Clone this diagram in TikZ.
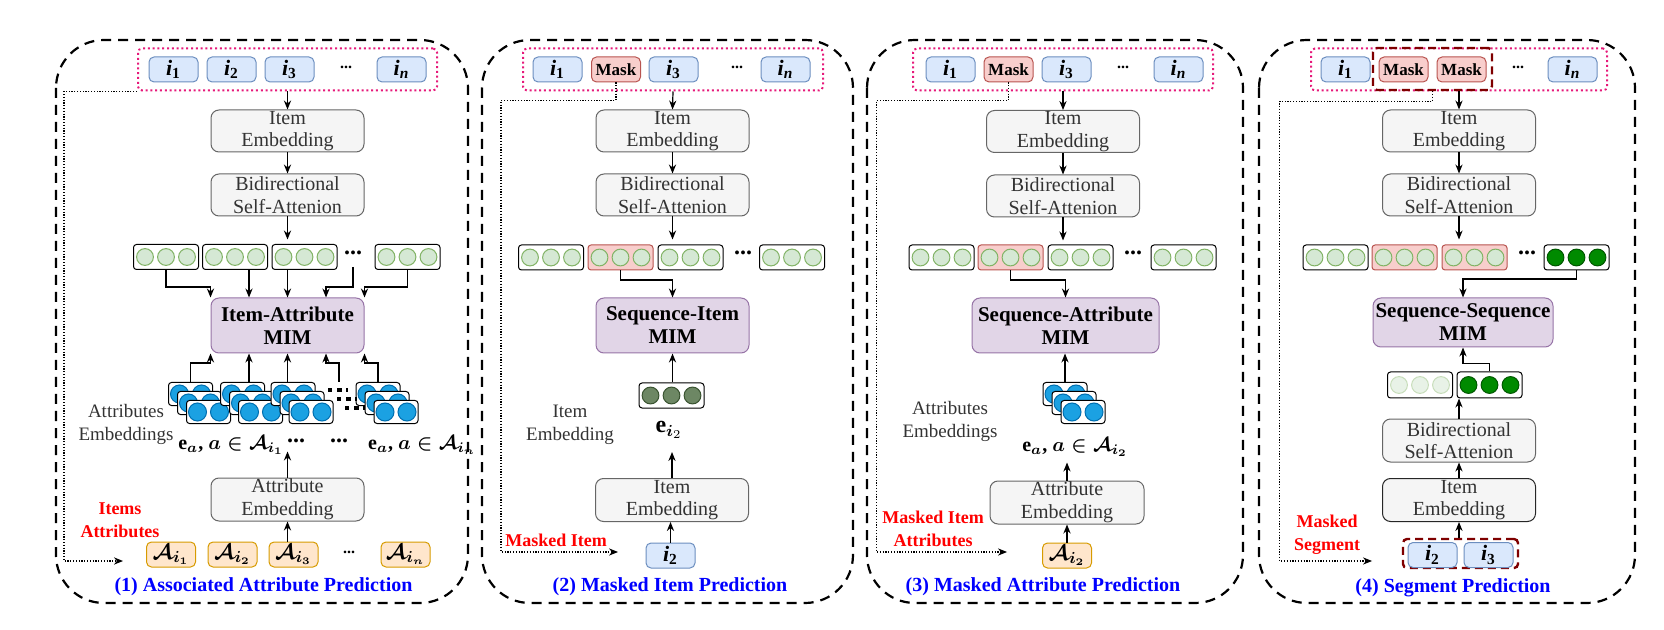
\documentclass[tikz,border=0pt]{standalone}
\usepackage{amsmath}
\usepackage{fontspec}
\setmainfont{Liberation Serif}
\usepackage{tikz}
\usetikzlibrary{arrows.meta,calc}

\definecolor{itemfill}{HTML}{DAE8FC}
\definecolor{itemline}{HTML}{6C8EBF}
\definecolor{maskfill}{HTML}{F8CECC}
\definecolor{maskline}{HTML}{B85450}
\definecolor{blockfill}{HTML}{F5F5F5}
\definecolor{blockline}{HTML}{666666}
\definecolor{blocktext}{HTML}{333333}
\definecolor{mimfill}{HTML}{E1D5E7}
\definecolor{mimline}{HTML}{9673A6}
\definecolor{attrfill}{HTML}{FFE6CC}
\definecolor{attrline}{HTML}{D79B00}
\definecolor{gfill}{HTML}{D5E8D4}
\definecolor{gline}{HTML}{82B366}
\definecolor{bfill}{HTML}{1BA1E2}
\definecolor{bline}{HTML}{006EAF}
\definecolor{dgfill}{HTML}{008A00}
\definecolor{dgline}{HTML}{005700}
\definecolor{olfill}{HTML}{6D8764}
\definecolor{olline}{HTML}{3A5431}
\definecolor{seqline}{HTML}{E6197A}
\definecolor{segline}{HTML}{7F0000}
\definecolor{titleblue}{HTML}{0000FF}
\definecolor{labelred}{HTML}{FF0000}

\newcommand{\itm}[1]{\textbf{\textit{i}\textsubscript{#1}}}
\newcommand{\eattr}[1]{$\mathbf{e}_{\boldsymbol{a}}\textbf{,}\ \boldsymbol{a\in\mathcal{A}_{i_{#1}}}$}
\newcommand{\attrof}[1]{$\boldsymbol{\mathcal{A}_{i_{#1}}}$}
% name, x, y, box style, dot style
\newcommand{\vecrow}[5]{%
  \node[vec,#4] (#1) at (#2,#3) {};
  \foreach \dx in {-21,0,21} \draw[#5] ({#2+\dx},#3) circle [radius=4.2pt];}
% name, x, y of the back box
\newcommand{\attrstack}[3]{%
  \foreach \s in {0,1,2} {
    \node[abox] (#1-\s) at ({#2+9*\s},{#3+9*\s}) {};
    \foreach \dx in {-11,11} \draw[bdot] ({#2+9*\s+\dx},{#3+9*\s}) circle [radius=4.5pt];}}

\begin{document}
\begin{tikzpicture}[x=0.5pt,y=-0.5pt,>={Stealth[length=4.5pt,width=3.6pt]},
                    line width=0.6pt,every node/.style={font=\fontsize{10}{11.3}\selectfont}]
  \tikzstyle{panel}=[draw=black,line width=1.1pt,dash pattern=on 5pt off 3.5pt,rounded corners=24pt]
  \tikzstyle{seqbox}=[draw=seqline,line width=1pt,dash pattern=on 1pt off 1.4pt,rounded corners=2pt,
                      minimum height=21pt,inner sep=0pt]
  \tikzstyle{segbox}=[draw=segline,line width=1.2pt,dash pattern=on 4pt off 2.5pt,rounded corners=2pt,inner sep=0pt]
  \tikzstyle{item}=[draw=itemline,fill=itemfill,line width=0.5pt,rounded corners=2.5pt,minimum width=24.5pt,
                    minimum height=12.5pt,inner sep=0pt,font=\fontsize{11}{12}\selectfont]
  \tikzstyle{mask}=[item,draw=maskline,fill=maskfill,font=\bfseries\fontsize{8.5}{10}\selectfont]
  \tikzstyle{attr}=[item,draw=attrline,fill=attrfill]
  \tikzstyle{block}=[draw=blockline,fill=blockfill,text=blocktext,line width=0.5pt,rounded corners=4pt,
                     minimum width=76.5pt,minimum height=21pt,inner sep=0pt,align=center]
  \tikzstyle{mim}=[block,draw=mimline,fill=mimfill,text=black,minimum height=27.5pt,
                   font=\bfseries\fontsize{10.5}{11.5}\selectfont]
  \tikzstyle{vec}=[draw=black,fill=white,line width=0.5pt,rounded corners=1.5pt,minimum width=32.5pt,
                   minimum height=12.5pt,inner sep=0pt]
  \tikzstyle{redvec}=[draw=maskline,fill=maskfill]
  \tikzstyle{abox}=[draw=black,fill=white,line width=0.5pt,rounded corners=1.5pt,minimum width=22pt,
                    minimum height=11.5pt,inner sep=0pt]
  \tikzstyle{gdot}=[draw=gline,fill=gfill,line width=0.5pt]
  \tikzstyle{pdot}=[draw=gline!45,fill=gfill!55,line width=0.5pt]
  \tikzstyle{bdot}=[draw=bline,fill=bfill,line width=0.5pt]
  \tikzstyle{dgdot}=[draw=dgline,fill=dgfill,line width=0.5pt]
  \tikzstyle{oldot}=[draw=olline,fill=olfill,line width=0.5pt]
  \tikzstyle{note}=[text=blocktext,align=center,font=\fontsize{9.5}{11.5}\selectfont]
  \tikzstyle{tag}=[text=labelred,align=center,font=\bfseries\fontsize{9}{11.5}\selectfont]
  \tikzstyle{title}=[text=titleblue,font=\bfseries\fontsize{10}{12}\selectfont]
  \tikzstyle{dots}=[font=\bfseries\fontsize{12}{12}\selectfont]
  \tikzstyle{sdots}=[font=\bfseries\fontsize{8}{10}\selectfont]
  \tikzstyle{hint}=[->,line width=0.6pt,dash pattern=on 0.6pt off 0.8pt]
  \tikzstyle{ldots}=[line width=2.2pt,dash pattern=on 2.2pt off 2.4pt]

  \useasboundingbox (0,0) rectangle (1664,630);

  % four task panels
  \draw[panel] (56,40) rectangle (468,603);
  \draw[panel] (482,40) rectangle (853,603);
  \draw[panel] (867,40) rectangle (1243,603);
  \draw[panel] (1259,40) rectangle (1635,603);

  % ---------- (1) associated attribute prediction
  \node[seqbox,minimum width=149.5pt] (seqA) at (287.5,69.5) {};
  \node[item] (iA1) at (173.5,69.5) {\itm{1}};
  \node[item] (iA2) at (231.5,69.5) {\itm{2}};
  \node[item] (iA3) at (289.5,69.5) {\itm{3}};
  \node[sdots] (dA) at (346,67) {...};
  \node[item] (iAn) at (401.5,69.5) {\itm{\textit{n}}};

  \node[block] (embA) at (287.5,131) {Item\\Embedding};
  \node[block] (bidA) at (287.5,195) {Bidirectional\\Self-Attenion};

  \vecrow{vA1}{166}{257}{}{gdot}
  \vecrow{vA2}{235}{257}{}{gdot}
  \vecrow{vA3}{304.5}{257}{}{gdot}
  \node[dots] (vdA) at (353,253) {...};
  \vecrow{vA4}{407.5}{257}{}{gdot}

  \node[mim] (mimA) at (287.5,325.5) {Item-Attribute\\MIM};

  \attrstack{sA1}{190.5}{394}
  \attrstack{sA2}{242.5}{394}
  \attrstack{sA3}{293}{394}
  \attrstack{sA4}{378}{394}
  \draw[ldots] (328,390) -- (348,390);
  \draw[ldots] (337,399) -- (357,399);
  \draw[ldots] (345,408) -- (365,408);
  \coordinate (sdA) at (339,382);

  \node[note] (nA) at (126,424) {Attributes\\Embeddings};
  \node (lA1) at (231,445) {\eattr{1}};
  \node[dots] (ldA1) at (296,441) {...};
  \node[dots] (ldA2) at (339,441) {...};
  \node (lAn) at (422,445) {\eattr{n}};

  \node[block,minimum height=21.5pt] (attA) at (287.5,499.5) {Attribute\\Embedding};
  \node[attr] (aA1) at (171,554.5) {\attrof{1}};
  \node[attr] (aA2) at (232.5,554.5) {\attrof{2}};
  \node[attr] (aA3) at (293.5,554.5) {\attrof{3}};
  \node[sdots] (daA) at (349,552) {...};
  \node[attr] (aAn) at (405.5,554.5) {\attrof{n}};
  \node[tag] (tA) at (120,520) {Items\\Attributes};
  \node[title] (ttA) at (263.5,587) {(1) Associated Attribute Prediction};

  \coordinate (jA) at (0,287);
  \coordinate (kA) at (0,363);
  \coordinate (tA2) at ($(mimA.north west)!0.25!(mimA.north east)$);
  \coordinate (tA4) at ($(mimA.north west)!0.75!(mimA.north east)$);
  \coordinate (bA2) at ($(mimA.south west)!0.25!(mimA.south east)$);
  \coordinate (bA4) at ($(mimA.south west)!0.75!(mimA.south east)$);
  \draw[->] (seqA.south) -- (embA.north);
  \draw[->] (embA.south) -- (bidA.north);
  \draw[->] (bidA.south) -- ++(0,23);
  \draw[->] (vA1.south) -- (vA1.south |- jA) -| (mimA.north west);
  \draw[->] (vA2.south -| tA2) -- (tA2);
  \draw[->] (vA3.south -| mimA.north) -- (mimA.north);
  \draw[->] (353,267) -- (353,287) -| (tA4);
  \draw[->] (vA4.south) -- (vA4.south |- jA) -| (mimA.north east);
  \draw[->] (sA1-0.north) -- (sA1-0.north |- kA) -| (mimA.south west);
  \draw[->] (sA2-0.north -| bA2) -- (bA2);
  \draw[->] (sA3-0.north -| mimA.south) -- (mimA.south);
  \draw[->] (sdA) -- (sdA |- kA) -| (bA4);
  \draw[->] (sA4-0.north) -- (sA4-0.north |- kA) -| (mimA.south east);
  \draw[->] (attA.north) -- ++(0,-26);
  \draw[->] (aA3.north -| attA.south) -- (attA.south);
  \coordinate (hA) at (123,561);
  \draw[hint] (seqA.south west) -- ++(-73,0) |- (hA);

  % ---------- (2) masked item prediction
  \node[seqbox,minimum width=150pt] (seqB) at (673,69.5) {};
  \node[item] (iB1) at (557.5,69.5) {\itm{1}};
  \node[mask] (maskB) at (616,69.5) {Mask};
  \node[item] (iB3) at (673.5,69.5) {\itm{3}};
  \node[sdots] (dB) at (737,67) {...};
  \node[item] (iBn) at (785.5,69.5) {\itm{\textit{n}}};

  \node[block] (embB) at (672.5,131) {Item\\Embedding};
  \node[block] (bidB) at (672.5,195) {Bidirectional\\Self-Attenion};

  \vecrow{vB1}{551}{257.5}{}{gdot}
  \vecrow{vB2}{620.5}{257.5}{redvec}{gdot}
  \vecrow{vB3}{690.5}{257.5}{}{gdot}
  \node[dots] (vdB) at (743,253) {...};
  \vecrow{vB4}{792}{257.5}{}{gdot}

  \node[mim] (mimB) at (672.5,325.5) {Sequence-Item\\MIM};
  \vecrow{eB}{671.5}{395.5}{}{oldot}
  \node[font=\fontsize{12}{12}\selectfont] (eiB) at (669,430) {$\mathbf{e}_{\boldsymbol{i}_2}$};
  \node[note] (nB) at (570,425) {Item\\Embedding};
  \node[block,minimum height=21.5pt] (embB2) at (672,500) {Item\\Embedding};
  \node[item] (iB2) at (670.5,555.5) {\itm{2}};
  \node[tag] (tB) at (556,540) {Masked Item};
  \node[title] (ttB) at (670,587) {(2) Masked Item Prediction};

  \coordinate (jB) at (0,280);
  \draw[->] (seqB.south) -- (embB.north);
  \draw[->] (embB.south) -- (bidB.north);
  \draw[->] (bidB.south) -- ++(0,23);
  \draw[->] (vB2.south) -- (vB2.south |- jB) -| (mimB.north);
  \draw[->] (mimB.south |- eB.north) -- (mimB.south);
  \draw[->] (embB2.north) -- ++(0,-26);
  \draw[->] (iB2.north) -- (iB2.north |- embB2.south);
  \coordinate (hB) at (618,552);
  \draw[hint] (maskB.south) -- ++(0,18) -- ++(-115,0) |- (hB);

  % ---------- (3) masked attribute prediction
  \node[seqbox,minimum width=150pt] (seqC) at (1063,69.5) {};
  \node[item] (iC1) at (950.5,69.5) {\itm{1}};
  \node[mask] (maskC) at (1008.5,69.5) {Mask};
  \node[item] (iC3) at (1066.5,69.5) {\itm{3}};
  \node[sdots] (dC) at (1123,67) {...};
  \node[item] (iCn) at (1178.5,69.5) {\itm{\textit{n}}};

  \node[block] (embC) at (1063,131.5) {Item\\Embedding};
  \node[block] (bidC) at (1063,196) {Bidirectional\\Self-Attenion};

  \vecrow{vC1}{941.5}{257.5}{}{gdot}
  \vecrow{vC2}{1010.5}{257.5}{redvec}{gdot}
  \vecrow{vC3}{1080.5}{257.5}{}{gdot}
  \node[dots] (vdC) at (1133,253) {...};
  \vecrow{vC4}{1183.5}{257.5}{}{gdot}

  \node[mim,minimum width=93.5pt] (mimC) at (1065.5,325.5) {Sequence-Attribute\\MIM};
  \attrstack{sC}{1065}{394}
  \node (lC) at (1075,447) {\eattr{2}};
  \node[note] (nC) at (950,421) {Attributes\\Embeddings};
  \node[block,minimum width=77pt,minimum height=21.5pt] (attC) at (1067,502.5) {Attribute\\Embedding};
  \node[attr] (aC2) at (1067,555.5) {\attrof{2}};
  \node[tag] (tC) at (933,529) {Masked Item\\Attributes};
  \node[title] (ttC) at (1043,587) {(3) Masked Attribute Prediction};

  \draw[->] (seqC.south) -- (embC.north);
  \draw[->] (embC.south) -- (bidC.north);
  \draw[->] (bidC.south) -- ++(0,23);
  \draw[->] (vC2.south) -- (vC2.south |- jB) -| (mimC.north);
  \draw[->] (sC-0.north) -- (sC-0.north |- mimC.south);
  \draw[->] (attC.north) -- ++(0,-18);
  \draw[->,line width=1.3pt] (aC2.north) -- (aC2.north |- attC.south);
  \coordinate (hC) at (1007,552);
  \draw[hint] (maskC.south) -- ++(0,18) -- ++(-132,0) |- (hC);

  % ---------- (4) segment prediction
  \node[seqbox,minimum width=148pt] (seqD) at (1459,69.5) {};
  \node[item] (iD1) at (1345.5,69.5) {\itm{1}};
  \node[mask] (maskD1) at (1403.5,69.5) {Mask};
  \node[mask] (maskD2) at (1461.5,69.5) {Mask};
  \node[sdots] (dD) at (1518,67) {...};
  \node[item] (iDn) at (1572.5,69.5) {\itm{\textit{n}}};
  \node[segbox,minimum width=59.5pt,minimum height=21pt] (segD) at (1432.5,69) {};

  \node[block] (embD) at (1459,131) {Item\\Embedding};
  \node[block] (bidD) at (1459,195) {Bidirectional\\Self-Attenion};

  \vecrow{vD1}{1335.5}{257.5}{}{gdot}
  \vecrow{vD2}{1404.5}{257.5}{redvec}{gdot}
  \vecrow{vD3}{1474.5}{257.5}{redvec}{gdot}
  \node[dots] (vdD) at (1527,253) {...};
  \vecrow{vD4}{1576.5}{257.5}{}{dgdot}

  \node[mim,minimum width=90pt,minimum height=24.5pt] (mimD) at (1463,322.5) {Sequence-Sequence\\MIM};
  \vecrow{wD1}{1420}{385}{minimum height=13pt}{pdot}
  \vecrow{wD2}{1489.5}{385}{minimum height=13pt}{dgdot}
  \node[block,minimum height=21.5pt] (bidD2) at (1459,440.5) {Bidirectional\\Self-Attenion};
  \node[block,draw=black!85,minimum height=21.5pt] (embD2) at (1459,500) {Item\\Embedding};
  \node[segbox,minimum width=57.5pt,minimum height=14.5pt] (segD2) at (1460.5,553.5) {};
  \node[item] (iD2) at (1432.5,555) {\itm{2}};
  \node[item] (iD3) at (1488.5,555) {\itm{3}};
  \node[tag] (tD) at (1327,535) {Masked\\Segment};
  \node[title] (ttD) at (1453,588) {(4) Segment Prediction};

  \coordinate (jD) at (0,279);
  \draw[->] (seqD.south) -- (embD.north);
  \draw[->] (embD.south) -- (bidD.north);
  \draw[->] (bidD.south) -- ++(0,23);
  \draw[->] (vD4.south) -- (vD4.south |- jD) -| (mimD.north);
  \draw[->] (wD2.north) -- ++(0,-8) -| (mimD.south);
  \draw[->] (bidD2.north) -- (bidD2.north |- wD2.south);
  \draw[->] (embD2.north) -- (bidD2.south);
  \draw[->] (segD2.north -| embD2.south) -- (embD2.south);
  \coordinate (hD) at (1372,561);
  \draw[hint] (segD.south) -- ++(0,10) -- ++(-153,0) |- (hD);
\end{tikzpicture}
\end{document}
